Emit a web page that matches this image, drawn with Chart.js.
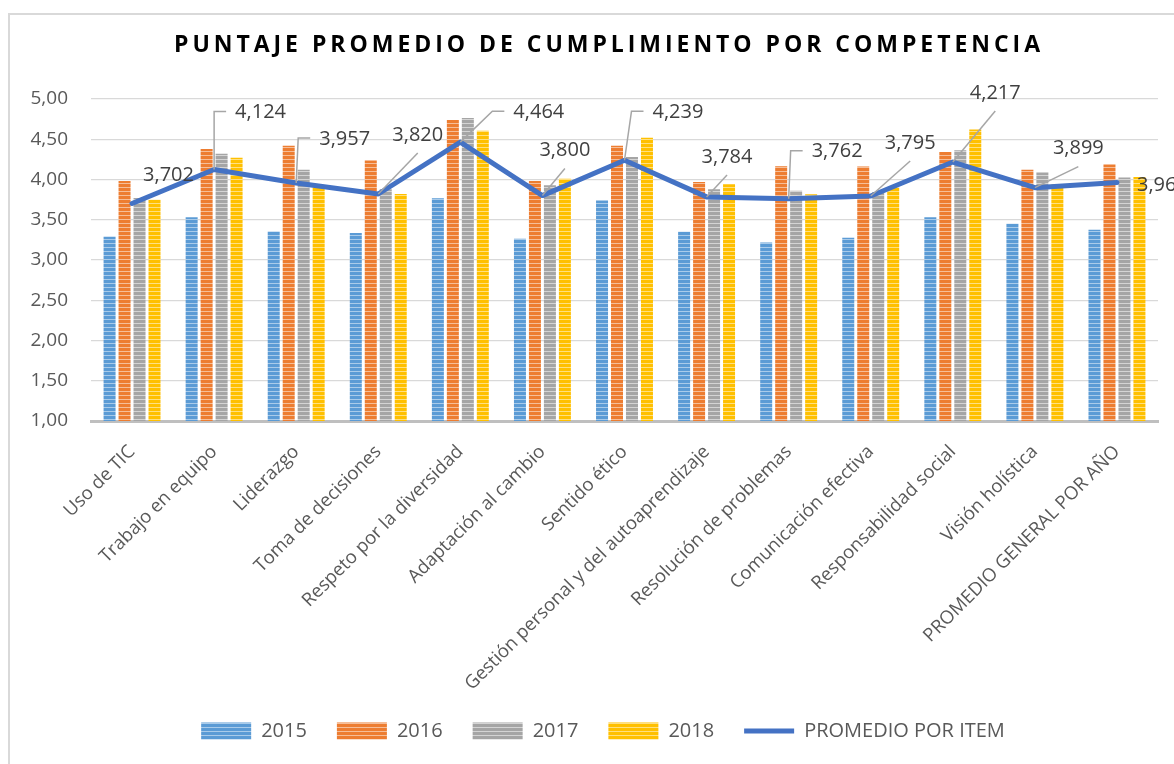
<!DOCTYPE html>
<html>
<head>
<meta charset="utf-8">
<script src="https://cdn.jsdelivr.net/npm/chart.js@4.4.0/dist/chart.umd.min.js"></script>
<style>
  html, body { margin: 0; padding: 0; background: #fff; }
</style>
</head>
<body>
<canvas id="chart" width="1174" height="764"></canvas>
<script>
const categories = [
  "Uso de TIC", "Trabajo en equipo", "Liderazgo", "Toma de decisiones",
  "Respeto por la diversidad", "Adaptación al cambio", "Sentido ético",
  "Gestión personal y del autoaprendizaje", "Resolución de problemas",
  "Comunicación efectiva", "Responsabilidad social", "Visión holística",
  "PROMEDIO GENERAL POR AÑO"
];
const years = ["2015", "2016", "2017", "2018"];
const v2015 = [3.29, 3.53, 3.355, 3.335, 3.766, 3.264, 3.74, 3.35, 3.218, 3.276, 3.53, 3.45, 3.376];
const v2016 = [3.98, 4.38, 4.42, 4.235, 4.74, 3.98, 4.42, 3.97, 4.165, 4.16, 4.343, 4.12, 4.186];
const v2017 = [3.77, 4.32, 4.12, 3.88, 4.763, 3.93, 4.28, 3.88, 3.86, 3.844, 4.364, 4.087, 4.024];
const v2018 = [3.75, 4.27, 3.91, 3.82, 4.605, 4.01, 4.52, 3.94, 3.816, 3.90, 4.62, 3.939, 4.03];
const promedio = [3.702, 4.124, 3.957, 3.820, 4.464, 3.800, 4.239, 3.784, 3.762, 3.795, 4.217, 3.899, 3.964];
const lineLabel = "PROMEDIO POR ITEM";
const title = "PUNTAJE PROMEDIO DE CUMPLIMIENTO POR COMPETENCIA";

// where each value label of the average line sits, relative to its point
const labelPlacement = [
  { dx: 11, dy: -28, lead: "none" },
  { dx: 21, dy: -57, lead: "elbow", ex: 0 },
  { dx: 23, dy: -44, lead: "elbow", ex: 2 },
  { dx: 14, dy: -59, lead: "diag" },
  { dx: 53, dy: -30, lead: "elbow", ex: 32 },
  { dx: -3, dy: -45, lead: "diag" },
  { dx: 28, dy: -48, lead: "elbow", ex: 7 },
  { dx: -5, dy: -40, lead: "diag" },
  { dx: 23, dy: -47, lead: "elbow", ex: 2 },
  { dx: 14, dy: -53, lead: "diag" },
  { dx: 17, dy: -69, lead: "diag" },
  { dx: 18, dy: -39, lead: "diag" },
  { dx: 20, dy: 3, lead: "none" }
];

const FONT = "'Open Sans', sans-serif";

function stripes(color, light) {
  const c = document.createElement("canvas");
  c.width = 4; c.height = 4;
  const g = c.getContext("2d");
  g.fillStyle = color;
  g.fillRect(0, 0, 4, 4);
  g.fillStyle = light;
  g.fillRect(0, 3, 4, 1);
  return g.createPattern(c, "repeat");
}

const fills = [
  stripes("#5B9BD5", "#A9CBEA"),
  stripes("#ED7D31", "#F6BE98"),
  stripes("#A5A5A5", "#D4D4D4"),
  stripes("#FFC000", "#FFE080")
];

const frame = {
  id: "frame",
  afterLayout(chart) {
    // legend centred as in the original, which ignores the y tick labels
    chart.legend.left = 48;
  },
  beforeDraw(chart) {
    const ctx = chart.ctx;
    ctx.save();
    ctx.fillStyle = "#fff";
    ctx.fillRect(0, 0, chart.width, chart.height);
    ctx.strokeStyle = "#D9D9D9";
    ctx.lineWidth = 2;
    ctx.strokeRect(9, 14, chart.width + 10, chart.height + 10);
    ctx.restore();
  },
  afterDraw(chart) {
    const ctx = chart.ctx;
    ctx.save();
    ctx.font = "bold 23px " + FONT;
    ctx.fillStyle = "#000";
    ctx.textBaseline = "middle";
    ctx.textAlign = "left";
    ctx.letterSpacing = "0px";
    const w0 = ctx.measureText(title).width;
    const ls = (866 - w0) / (title.length - 1);
    ctx.letterSpacing = ls + "px";
    ctx.fillText(title, 174, 45);
    ctx.restore();
  }
};

const avgLabels = {
  id: "avgLabels",
  afterDatasetsDraw(chart) {
    const ctx = chart.ctx;
    const pts = chart.getDatasetMeta(4).data;
    ctx.save();
    ctx.font = "20px " + FONT;
    ctx.textBaseline = "middle";
    ctx.textAlign = "left";
    pts.forEach((p, i) => {
      const pl = labelPlacement[i];
      const txt = promedio[i].toFixed(3).replace(".", ",");
      const w = ctx.measureText(txt).width;
      const left = p.x + pl.dx;
      const cy = p.y + pl.dy;
      ctx.strokeStyle = "#A6A6A6";
      ctx.lineWidth = 1.5;
      if (pl.lead === "elbow") {
        ctx.beginPath();
        ctx.moveTo(p.x, p.y);
        ctx.lineTo(p.x + pl.ex, cy - 1);
        ctx.lineTo(left - 9, cy - 1);
        ctx.stroke();
      } else if (pl.lead === "diag") {
        ctx.beginPath();
        ctx.moveTo(p.x, p.y);
        ctx.lineTo(left + w / 2, cy + 18);
        ctx.stroke();
      }
      ctx.fillStyle = "#404040";
      ctx.fillText(txt, left, cy);
    });
    ctx.restore();
  }
};

const barSets = [v2015, v2016, v2017, v2018].map((vals, k) => ({
  type: "bar",
  label: years[k],
  data: vals,
  backgroundColor: fills[k],
  borderWidth: 0,
  pointStyle: "rect",
  categoryPercentage: 0.73,
  barPercentage: 0.8
}));

new Chart(document.getElementById("chart"), {
  data: {
    labels: categories,
    datasets: [
      ...barSets,
      {
        type: "line",
        label: lineLabel,
        data: promedio,
        borderColor: "#4472C4",
        backgroundColor: "#4472C4",
        borderWidth: 5,
        borderCapStyle: "round",
        borderJoinStyle: "round",
        pointRadius: 0,
        pointStyle: "line",
        tension: 0,
        order: -1
      }
    ]
  },
  options: {
    responsive: false,
    animation: false,
    layout: { padding: { top: 99, left: 16, right: 16, bottom: 13 } },
    plugins: {
      tooltip: { enabled: false },
      legend: {
        position: "bottom",
        labels: {
          usePointStyle: true,
          pointStyleWidth: 50,
          boxHeight: 17,
          padding: 30,
          color: "#595959",
          font: { family: FONT, size: 20 },
          sort: (a, b) => a.datasetIndex - b.datasetIndex
        }
      }
    },
    scales: {
      x: {
        grid: { display: false },
        border: { display: true, color: "#BFBFBF", width: 3 },
        ticks: {
          autoSkip: false,
          maxRotation: 45,
          minRotation: 45,
          padding: 12,
          color: "#595959",
          font: { family: FONT, size: 18.5 }
        },
        afterFit(scale) { scale.height = 270; }
      },
      y: {
        min: 1,
        max: 5,
        border: { display: false },
        grid: { color: "#D9D9D9", lineWidth: 1.3, drawTicks: false },
        ticks: {
          stepSize: 0.5,
          padding: 23,
          color: "#595959",
          font: { family: FONT, size: 19 },
          callback: v => v.toFixed(2).replace(".", ",")
        },
        afterFit(scale) { scale.width = 75; }
      }
    }
  },
  plugins: [frame, avgLabels]
});
</script>
</body>
</html>
